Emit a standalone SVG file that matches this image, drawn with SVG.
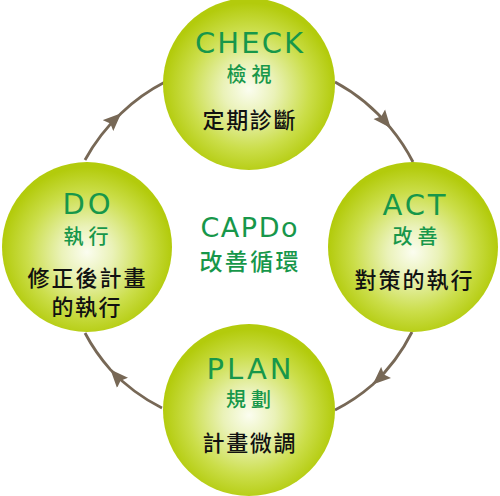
<svg xmlns="http://www.w3.org/2000/svg" width="500" height="496" viewBox="0 0 500 496">
<defs>
<radialGradient id="ball" cx="50%" cy="53%" r="50%">
<stop offset="0" stop-color="#fbfdf0"/>
<stop offset="0.3" stop-color="#eaf2b8"/>
<stop offset="0.7" stop-color="#cbde4a"/>
<stop offset="1" stop-color="#b3cb0c"/>
</radialGradient>
<marker id="arr" markerUnits="userSpaceOnUse" markerWidth="20" markerHeight="16" refX="18" refY="8" orient="auto">
<path d="M0,0.5 L18,8 L0,15.5 L3,8 z" fill="#776856"/>
</marker>
<style>
.ball{fill:url(#ball)}
.conn{fill:none;stroke:#776856;stroke-width:2.8;marker-mid:url(#arr)}
.en{font-family:"DejaVu Sans","Open Sans",sans-serif;font-size:29px;fill:#17974a;text-anchor:middle}
.zh{font-family:"Noto Sans CJK TC","Noto Sans CJK SC",sans-serif;font-size:20px;font-weight:500;fill:#17974a;text-anchor:middle}
.bk{font-family:"Noto Sans CJK TC","Noto Sans CJK SC",sans-serif;font-size:22px;font-weight:500;fill:#111;text-anchor:middle}
</style>
</defs>
<rect width="500" height="496" fill="#fff"/>
<g id="connectors">
<path class="conn" d="M335,82 A185,185 0 0 1 390.7,128.1 A185,185 0 0 1 413,162"/>
<path class="conn" d="M412,332 A185,185 0 0 1 372.8,384.5 A185,185 0 0 1 335,410"/>
<path class="conn" d="M162,408 A185,185 0 0 1 110.4,369.6 A185,185 0 0 1 85,333"/>
<path class="conn" d="M85,160 A185,185 0 0 1 121.2,113.2 A185,185 0 0 1 165,82"/>
</g>
<g id="check">
<circle class="ball" cx="249" cy="84" r="86"/>
<text class="en" x="249" y="53" textLength="108" lengthAdjust="spacing">CHECK</text>
<text class="zh" x="249" y="82" textLength="45" lengthAdjust="spacing">檢視</text>
<text class="bk" x="249" y="128" textLength="93" lengthAdjust="spacing">定期診斷</text>
</g>
<g id="act">
<circle class="ball" cx="413" cy="247" r="85"/>
<text class="en" x="414" y="215" textLength="63" lengthAdjust="spacing">ACT</text>
<text class="zh" x="415" y="244" textLength="45" lengthAdjust="spacing">改善</text>
<text class="bk" x="413.5" y="288" textLength="118" lengthAdjust="spacing">對策的執行</text>
</g>
<g id="plan">
<circle class="ball" cx="249" cy="410" r="86"/>
<text class="en" x="249" y="379" textLength="85" lengthAdjust="spacing">PLAN</text>
<text class="zh" x="248.5" y="407" textLength="45" lengthAdjust="spacing">規劃</text>
<text class="bk" x="249" y="451" textLength="93" lengthAdjust="spacing">計畫微調</text>
</g>
<g id="do">
<circle class="ball" cx="87" cy="247" r="85"/>
<text class="en" x="86.5" y="214" textLength="48" lengthAdjust="spacing">DO</text>
<text class="zh" x="86" y="244" textLength="45" lengthAdjust="spacing">執行</text>
<text class="bk" x="86.5" y="286" textLength="118" lengthAdjust="spacing">修正後計畫</text>
<text class="bk" x="86" y="315" textLength="69" lengthAdjust="spacing">的執行</text>
</g>
<g id="center">
<text class="en" x="249" y="237" style="font-size:27px" textLength="97" lengthAdjust="spacing">CAPDo</text>
<text class="zh" x="249" y="270" style="font-size:23px" textLength="99" lengthAdjust="spacing">改善循環</text>
</g>
</svg>
